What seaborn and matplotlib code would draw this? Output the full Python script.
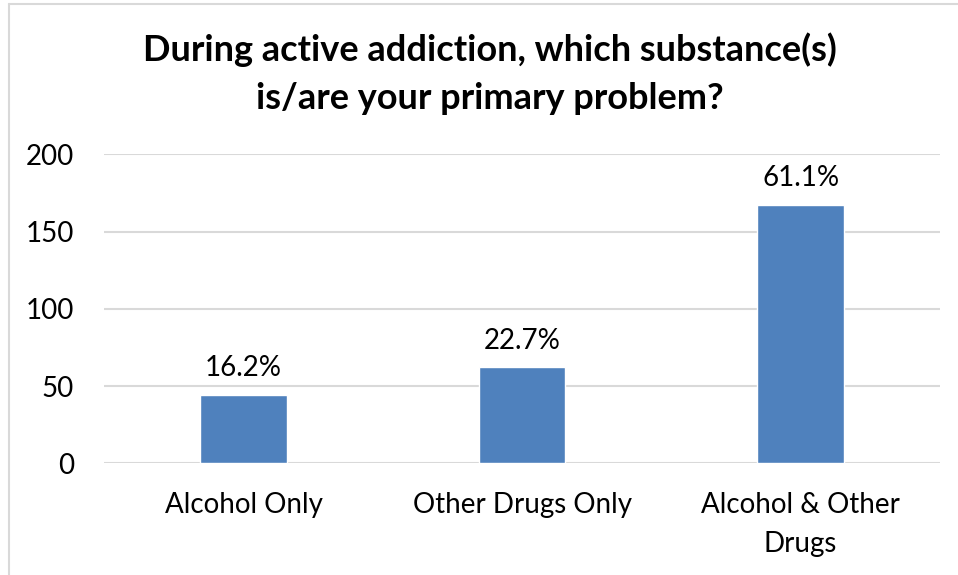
import matplotlib
matplotlib.use("Agg")
import matplotlib.pyplot as plt
import seaborn as sns
import pandas as pd
from matplotlib.lines import Line2D

categories = ["Alcohol Only", "Other Drugs Only", "Alcohol & Other\nDrugs"]
counts = [44, 62, 167]
pct_labels = ["16.2%", "22.7%", "61.1%"]
yticks = [0, 50, 100, 150, 200]

sns.set_theme(style="white")
plt.rcParams["font.family"] = ["Lato", "DejaVu Sans"]

df = pd.DataFrame({"cat": categories, "n": counts})

fig = plt.figure(figsize=(9.58, 5.75), dpi=100)
ax = fig.add_axes([0.109, 0.1943, 0.872, 0.5374])
sns.barplot(data=df, x="cat", y="n", color="#4f81bd", saturation=1, width=0.31, ax=ax, zorder=3)

fs = 20
ax.set_ylim(0, 200)
ax.set_yticks(yticks)
ax.set_yticklabels([str(t) for t in yticks], fontsize=fs, color="#000000")
ax.set_xlim(-0.5, 2.5)
ax.tick_params(axis="y", length=0, pad=22)
ax.tick_params(axis="x", length=0, pad=21, labelsize=fs, colors="#000000")
for lab in ax.get_xticklabels():
    lab.set_linespacing(1.6)
ax.set_xlabel("")
ax.set_ylabel("")
ax.grid(axis="y", color="#d9d9d9", linewidth=1.5, zorder=0)
ax.grid(axis="x", visible=False)
for s in ax.spines.values():
    s.set_visible(False)

for p, lab in zip(ax.patches, pct_labels):
    ax.annotate(lab, (p.get_x() + p.get_width() / 2, p.get_height()),
                xytext=(0, 10), textcoords="offset points",
                ha="center", va="bottom", fontsize=fs, color="#000000")

fig.text(0.511, 0.872, "During active addiction, which substance(s)\nis/are your primary problem?",
         ha="center", va="center", fontsize=26, fontweight="bold", linespacing=1.58,
         color="#000000")

# outer chart border (left and top visible)
fig.add_artist(Line2D([8.5 / 958, 8.5 / 958], [0, 1 - 3.5 / 575], transform=fig.transFigure,
                      color="#d9d9d9", linewidth=1.5))
fig.add_artist(Line2D([8.5 / 958, 1], [1 - 3.5 / 575, 1 - 3.5 / 575], transform=fig.transFigure,
                      color="#d9d9d9", linewidth=1.5))

fig.savefig("out.png", dpi=100, facecolor="white")
